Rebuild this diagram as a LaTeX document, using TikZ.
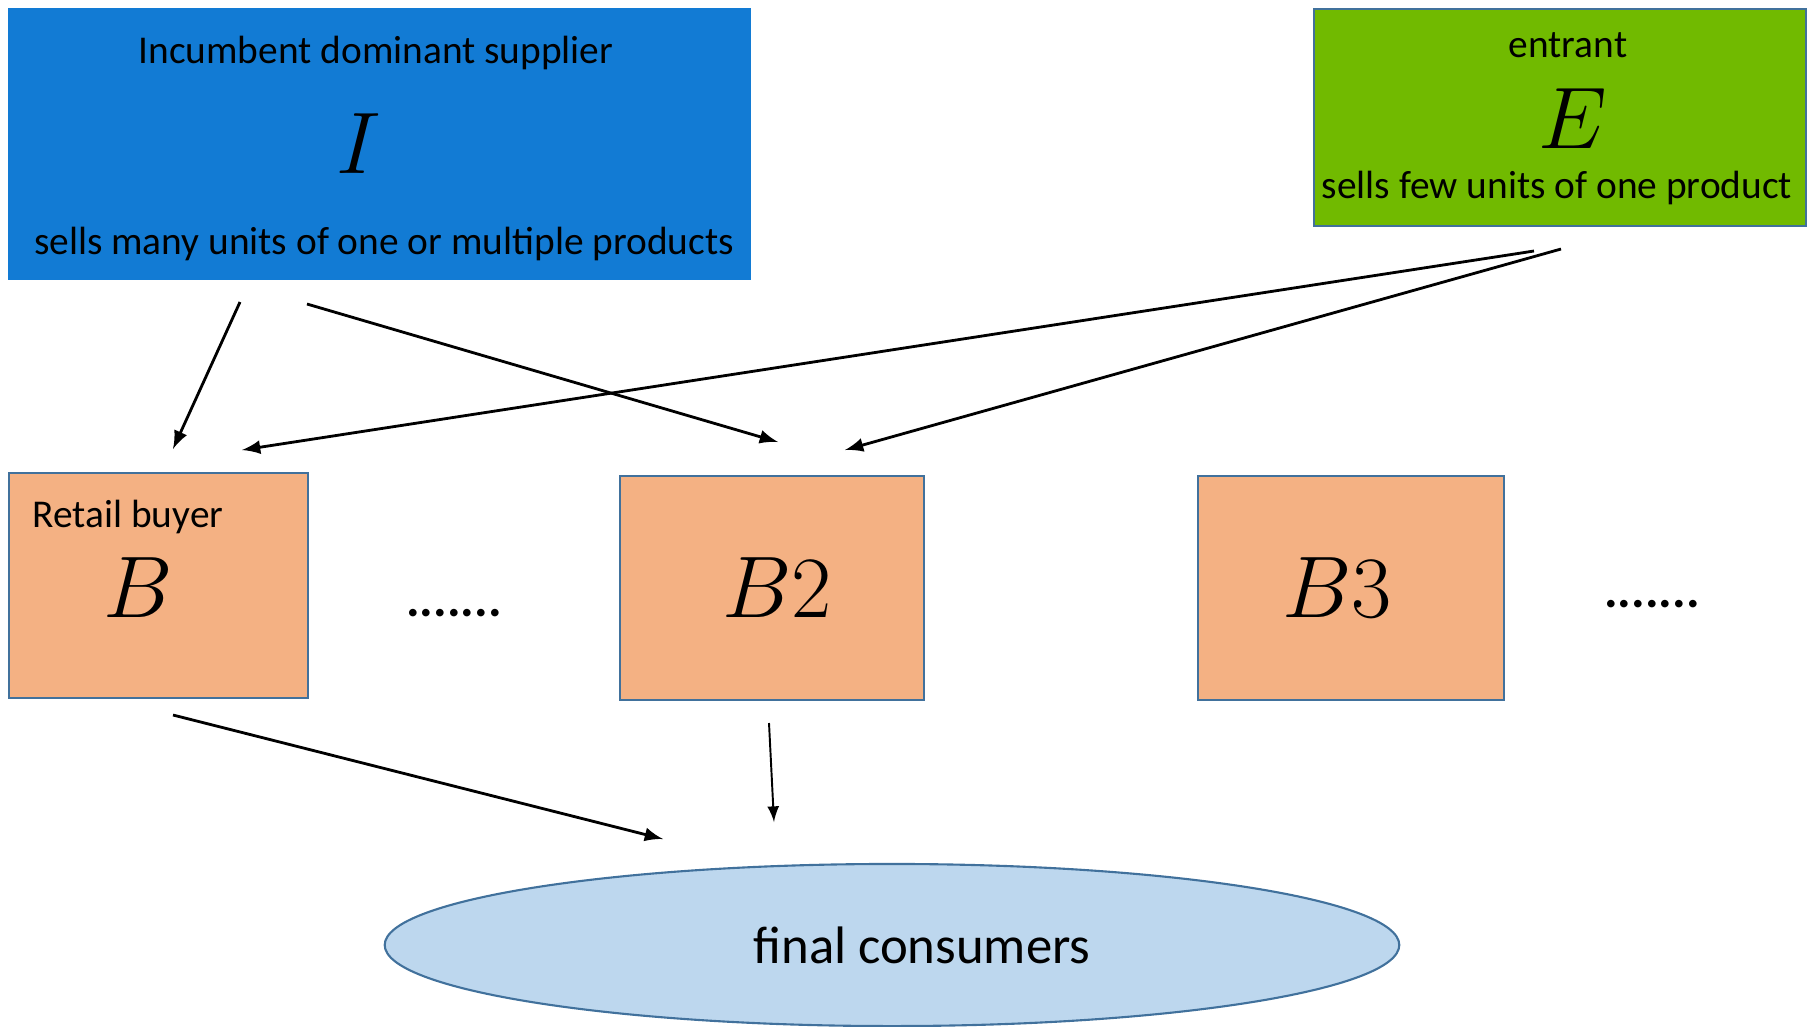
\documentclass[tikz,border=0pt]{standalone}
\usepackage{fontspec}
\setmainfont{Carlito}
\usepackage{tikz}
\usetikzlibrary{shapes.geometric}

\definecolor{incblue}{HTML}{127BD4}
\definecolor{entgreen}{HTML}{71BA00}
\definecolor{buyorange}{HTML}{F4B183}
\definecolor{consblue}{HTML}{BDD7EE}
\definecolor{edgeblue}{HTML}{41719C}

\tikzset{
	firm/.style={draw=edgeblue, line width=0.6pt, inner sep=0pt},
	lbl/.style={inner sep=0pt, font=\fontsize{11.2}{13}\selectfont},
	bigsym/.style={inner sep=0pt, font=\fontsize{27}{30}\selectfont},
	flow/.style={-latex, line width=0.8pt},
}

\begin{document}
\begin{tikzpicture}[x=0.01cm, y=-0.01cm]
	\useasboundingbox (0,0) rectangle (1808,1026);

	\node[firm, draw=incblue, fill=incblue, minimum width=7.41cm, minimum height=2.70cm] (I) at (379.5,144) {};
	\node[firm, fill=entgreen, minimum width=4.92cm, minimum height=2.17cm] (E) at (1560,117.5) {};
	\node[firm, fill=buyorange, minimum width=2.99cm, minimum height=2.25cm] (B) at (158.5,585.5) {};
	\node[firm, fill=buyorange, minimum width=3.04cm, minimum height=2.24cm] (B2) at (772,588) {};
	\node[firm, fill=buyorange, minimum width=3.06cm, minimum height=2.24cm] (B3) at (1351,588) {};
	\node[ellipse, draw=edgeblue, fill=consblue, line width=0.6pt, inner sep=0pt, minimum width=10.14cm, minimum height=1.62cm] (C) at (892,945) {};

	\node[lbl] (Ititle) at (376,53) {Incumbent dominant supplier};
	\node[bigsym] (Isym) at (359,144) {$I$};
	\node[lbl] (Isells) at (384,244) {sells many units of one or multiple products};
	\node[lbl] (Etitle) at (1568,45) {entrant};
	\node[bigsym] (Esym) at (1573,119) {$E$};
	\node[lbl] (Esells) at (1557,188) {sells few units of one product};
	\node[lbl, anchor=west] (Btitle) at (32,517) {Retail buyer};
	\node[bigsym] (Bsym) at (138,588) {$B$};
	\node[bigsym] (B2sym) at (777,588) {$B2$};
	\node[bigsym] (B3sym) at (1337,588) {$B3$};
	\node[lbl, font=\fontsize{14.5}{16}\bfseries] (dotsA) at (454,613) {.......};
	\node[lbl, font=\fontsize{14.5}{16}\bfseries] (dotsB) at (1652,604) {.......};
	\node[inner sep=0pt, font=\fontsize{15}{18}\selectfont] (Ctitle) at (922,945) {final consumers};

	\coordinate (IoutB) at (240,302);
	\coordinate (IoutB2) at (307,304);
	\coordinate (EoutB) at (1534,251);
	\coordinate (EoutB2) at (1561,249);
	\coordinate (BinI) at (173,449);
	\coordinate (B2inI) at (778,442);
	\coordinate (BinE) at (242,450);
	\coordinate (B2inE) at (845,450);
	\coordinate (BoutC) at (173,715);
	\coordinate (B2outC) at (769,723);
	\coordinate (CinB) at (663,839);
	\coordinate (CinB2) at (774,822);

	\path [flow] (IoutB) edge (BinI);
	\path [flow] (IoutB2) edge (B2inI);
	\path [flow] (EoutB) edge (BinE);
	\path [flow] (EoutB2) edge (B2inE);
	\path [flow] (BoutC) edge (CinB);
	\path [flow, line width=0.55pt] (B2outC) edge (CinB2);
\end{tikzpicture}
\end{document}
